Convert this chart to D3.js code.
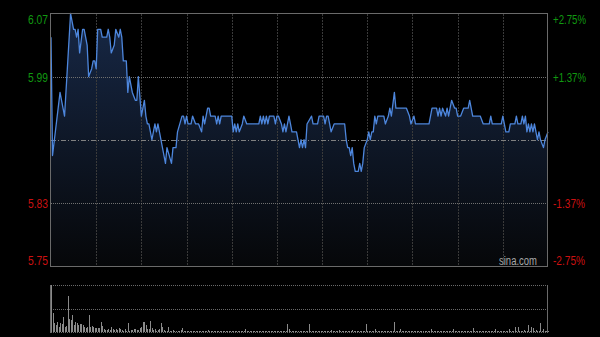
<!DOCTYPE html>
<head>
  <meta charset="utf-8">
  <script src="https://d3js.org/d3.v7.min.js"></script>
  <style>
    body { margin:0; background:#000; }
    svg { display:block; font-family: "Liberation Sans", Arial, sans-serif; }
  </style>
</head>
<body>
<svg width="600" height="337"></svg>

<script>
  // minute-of-day (0..330, HK session) and last price
  var priceTicks = [
    [0,6.04],[1,5.89],[6,5.97],[7,5.96],[9,5.94],[13,6.07],[15,6.05],[16,6.05],[17,6.04],[18,6.05],
    [19,6.02],[21,6.05],[22,6.05],[24,6.03],[25,5.99],[27,6.00],[28,6.01],[29,6.01],[30,6.00],[31,6.05],
    [33,6.05],[34,6.04],[37,6.04],[38,6.05],[39,6.04],[40,6.02],[42,6.03],[43,6.05],[45,6.04],[46,6.05],
    [47,6.04],[48,6.01],[50,6.01],[51,5.97],[52,5.99],[54,5.97],[56,5.96],[57,5.96],[58,5.99],[60,5.94],
    [62,5.96],[63,5.94],[64,5.93],[65,5.93],[67,5.91],[69,5.93],[70,5.92],[71,5.93],[73,5.91],[76,5.88],
    [77,5.90],[80,5.88],[81,5.90],[83,5.90],[84,5.92],[87,5.94],[88,5.94],[89,5.93],[90,5.94],[91,5.93],
    [93,5.93],[94,5.94],[96,5.93],[98,5.93],[100,5.92],[101,5.94],[102,5.93],[104,5.95],[105,5.95],[106,5.94],
    [109,5.94],[110,5.93],[111,5.94],[112,5.93],[113,5.94],[120,5.94],[121,5.92],[122,5.93],[123,5.92],[124,5.93],
    [125,5.92],[127,5.93],[128,5.94],[130,5.93],[138,5.93],[139,5.94],[140,5.93],[141,5.94],[142,5.93],[143,5.94],
    [144,5.93],[145,5.94],[148,5.94],[149,5.93],[150,5.94],[151,5.94],[153,5.93],[154,5.92],[155,5.93],[156,5.92],
    [158,5.94],[159,5.93],[160,5.92],[163,5.92],[165,5.90],[166,5.91],[167,5.90],[168,5.91],[169,5.90],[170,5.93],
    [173,5.94],[174,5.93],[177,5.93],[178,5.94],[181,5.94],[182,5.93],[183,5.94],[184,5.94],[185,5.93],[186,5.92],
    [188,5.93],[195,5.93],[196,5.91],[197,5.90],[198,5.90],[199,5.89],[200,5.90],[201,5.88],[202,5.87],[204,5.87],
    [205,5.88],[206,5.87],[207,5.88],[208,5.90],[210,5.91],[211,5.92],[212,5.91],[213,5.92],[214,5.92],[215,5.94],
    [216,5.93],[217,5.94],[221,5.94],[222,5.93],[224,5.94],[225,5.95],[226,5.94],[228,5.97],[229,5.95],[236,5.95],
    [238,5.94],[239,5.93],[241,5.94],[242,5.93],[251,5.93],[253,5.95],[256,5.95],[257,5.94],[258,5.95],[259,5.94],
    [260,5.95],[262,5.94],[263,5.95],[264,5.94],[265,5.95],[266,5.96],[268,5.95],[269,5.95],[270,5.94],[272,5.94],
    [274,5.95],[277,5.95],[278,5.96],[280,5.94],[285,5.94],[287,5.93],[291,5.93],[292,5.94],[293,5.93],[299,5.93],
    [300,5.94],[301,5.93],[302,5.92],[304,5.92],[305,5.93],[308,5.93],[309,5.94],[310,5.93],[312,5.93],[313,5.94],
    [314,5.93],[315,5.94],[316,5.92],[317,5.93],[318,5.92],[319,5.93],[320,5.92],[321,5.93],[322,5.92],[323,5.91],
    [324,5.92],[325,5.91],[327,5.90],[328,5.91],[330,5.92]
  ];

  // volume per minute (thousand shares), minutes 0..330
  var volumes = [
    470,190,95,70,105,55,90,80,155,55,
    60,365,135,120,175,75,105,95,75,80,
    85,75,55,45,50,170,55,60,55,45,
    45,40,45,105,60,30,25,20,30,25,
    47,30,20,35,25,40,35,20,15,30,
    15,93,15,20,25,30,35,20,25,40,
    55,105,105,70,30,35,113,40,20,30,
    15,25,30,95,55,20,10,15,55,15,
    10,20,15,15,10,15,25,37,10,8,
    10,12,8,10,15,10,8,12,10,15,
    10,8,12,10,20,10,8,10,12,10,
    8,10,12,8,10,15,10,8,10,12,
    10,8,10,12,10,15,10,8,10,27,
    10,8,12,10,8,10,12,10,8,10,
    12,10,8,10,15,10,8,12,10,8,
    10,12,8,10,15,10,12,77,27,10,
    8,10,12,10,8,15,10,8,10,12,
    10,77,10,8,12,10,8,10,15,10,
    8,10,12,10,8,10,20,10,8,12,
    10,20,8,10,12,10,8,10,15,10,
    20,10,8,12,10,15,10,8,12,80,
    10,8,12,10,8,27,10,12,8,10,
    12,10,8,10,15,10,8,12,103,10,
    8,10,27,10,12,8,10,15,10,8,
    10,12,8,10,15,10,8,12,10,8,
    10,12,27,10,8,12,10,15,10,8,
    10,12,8,10,15,10,8,27,10,12,
    8,10,12,10,8,10,15,10,8,12,
    37,10,8,12,10,15,10,8,12,10,
    8,10,12,10,8,27,10,12,8,10,
    12,10,8,10,27,10,12,8,47,10,
    53,10,12,8,20,10,15,70,10,47,
    37,10,20,12,10,93,15,27,10,13,8
  ];

  var priceLevels = [6.07, 5.99, 5.83, 5.75];
  var priceLabels = ["6.07", "5.99", "5.83", "5.75"];
  var pctLabels   = ["+2.75%", "+1.37%", "-1.37%", "-2.75%"];
  var prevClose   = 5.91;

  var svg = d3.select("svg");
  var pL = 51, pR = 548, pT = 13.5, pB = 266;
  var vT = 285, vB = 332;

  var x = d3.scaleLinear().domain([0, 330]).range([pL, pR]);
  var y = d3.scaleLinear().domain([5.75, 6.07]).range([pB, pT]);
  var yv = d3.scaleLinear().domain([0, 470]).range([vB, vT]);

  var defs = svg.append("defs");
  var grad = defs.append("linearGradient")
    .attr("id", "fillGrad")
    .attr("gradientUnits", "userSpaceOnUse")
    .attr("x1", 0).attr("x2", 0).attr("y1", pT).attr("y2", pB);
  grad.append("stop").attr("offset", "0%").attr("stop-color", "#172846");
  grad.append("stop").attr("offset", "100%").attr("stop-color", "#060709");

  // filled area under price
  var area = d3.area()
    .x(function(d) { return x(d[0]); })
    .y0(pB)
    .y1(function(d) { return y(d[1]); });
  svg.append("path").datum(priceTicks)
    .attr("d", area)
    .attr("fill", "url(#fillGrad)");

  // vertical grid (every 30 minutes)
  var g = svg.append("g").attr("shape-rendering", "crispEdges");
  d3.range(30, 330, 30).forEach(function(m) {
    g.append("line")
      .attr("x1", Math.round(x(m)) + 0.5).attr("x2", Math.round(x(m)) + 0.5)
      .attr("y1", pT).attr("y2", pB)
      .attr("stroke", "#3a3a3a").attr("stroke-dasharray", "2,1");
  });
  // horizontal grid
  [5.99, 5.83].forEach(function(v) {
    g.append("line")
      .attr("x1", pL).attr("x2", pR)
      .attr("y1", Math.round(y(v)) + 0.5).attr("y2", Math.round(y(v)) + 0.5)
      .attr("stroke", "#707070").attr("stroke-dasharray", "1,1");
  });
  g.append("line")
    .attr("x1", pL).attr("x2", pR)
    .attr("y1", Math.round(y(prevClose)) + 0.5).attr("y2", Math.round(y(prevClose)) + 0.5)
    .attr("stroke", "#808080").attr("stroke-dasharray", "5,2,1,2");

  // price line
  var line = d3.line()
    .x(function(d) { return x(d[0]); })
    .y(function(d) { return y(d[1]); });
  svg.append("path").datum(priceTicks)
    .attr("d", line)
    .attr("fill", "none")
    .attr("stroke", "#4d86dc")
    .attr("stroke-width", 1.3)
    .attr("stroke-linejoin", "round");

  // frame
  svg.append("rect")
    .attr("x", pL - 0.5).attr("y", pT).attr("width", pR - pL).attr("height", pB - pT + 0.5)
    .attr("fill", "none").attr("stroke", "#6a6a6a").attr("shape-rendering", "crispEdges");

  // labels
  var labelY = [23.5, 81.5, 207.5, 264.5];
  var isUp = function(i) { return priceLevels[i] > prevClose; };
  svg.selectAll("text.lp").data(priceLabels).enter().append("text")
    .attr("class", "lp")
    .attr("x", 48).attr("y", function(d, i) { return labelY[i]; })
    .attr("text-anchor", "end")
    .attr("font-size", 13)
    .attr("textLength", 20).attr("lengthAdjust", "spacingAndGlyphs")
    .attr("fill", function(d, i) { return isUp(i) ? "#119911" : "#cc1111"; })
    .text(function(d) { return d; });
  svg.selectAll("text.rp").data(pctLabels).enter().append("text")
    .attr("class", "rp")
    .attr("x", 553).attr("y", function(d, i) { return labelY[i]; })
    .attr("font-size", 13)
    .attr("textLength", function(d) { return d[0] === "+" ? 33 : 32; })
    .attr("lengthAdjust", "spacingAndGlyphs")
    .attr("fill", function(d, i) { return isUp(i) ? "#119911" : "#cc1111"; })
    .text(function(d) { return d; });

  svg.append("text")
    .attr("x", 499).attr("y", 265)
    .attr("font-size", 12)
    .attr("textLength", 38).attr("lengthAdjust", "spacingAndGlyphs")
    .attr("fill", "#a8a8a8")
    .text("sina.com");

  // volume panel
  var vg = svg.append("g").attr("shape-rendering", "crispEdges");
  [vT, (vT + vB) / 2, vB].forEach(function(yy) {
    vg.append("line")
      .attr("x1", pL).attr("x2", pR)
      .attr("y1", Math.round(yy) + 0.5).attr("y2", Math.round(yy) + 0.5)
      .attr("stroke", "#6a6a6a").attr("stroke-dasharray", "1,1");
  });
  vg.selectAll("rect.v").data(volumes).enter().append("rect")
    .attr("class", "v")
    .attr("x", function(d, i) { return Math.round(x(i)); })
    .attr("width", 1)
    .attr("y", function(d) { return yv(d); })
    .attr("height", function(d) { return vB - yv(d); })
    .attr("fill", "#8a8a8a");
  vg.append("line")
    .attr("x1", pR - 0.5).attr("x2", pR - 0.5).attr("y1", vT).attr("y2", vB + 1)
    .attr("stroke", "#6a6a6a");
  vg.append("line")
    .attr("x1", pL - 0.5).attr("x2", pL - 0.5).attr("y1", vT).attr("y2", vB + 1)
    .attr("stroke", "#6a6a6a");
</script>
</body>
